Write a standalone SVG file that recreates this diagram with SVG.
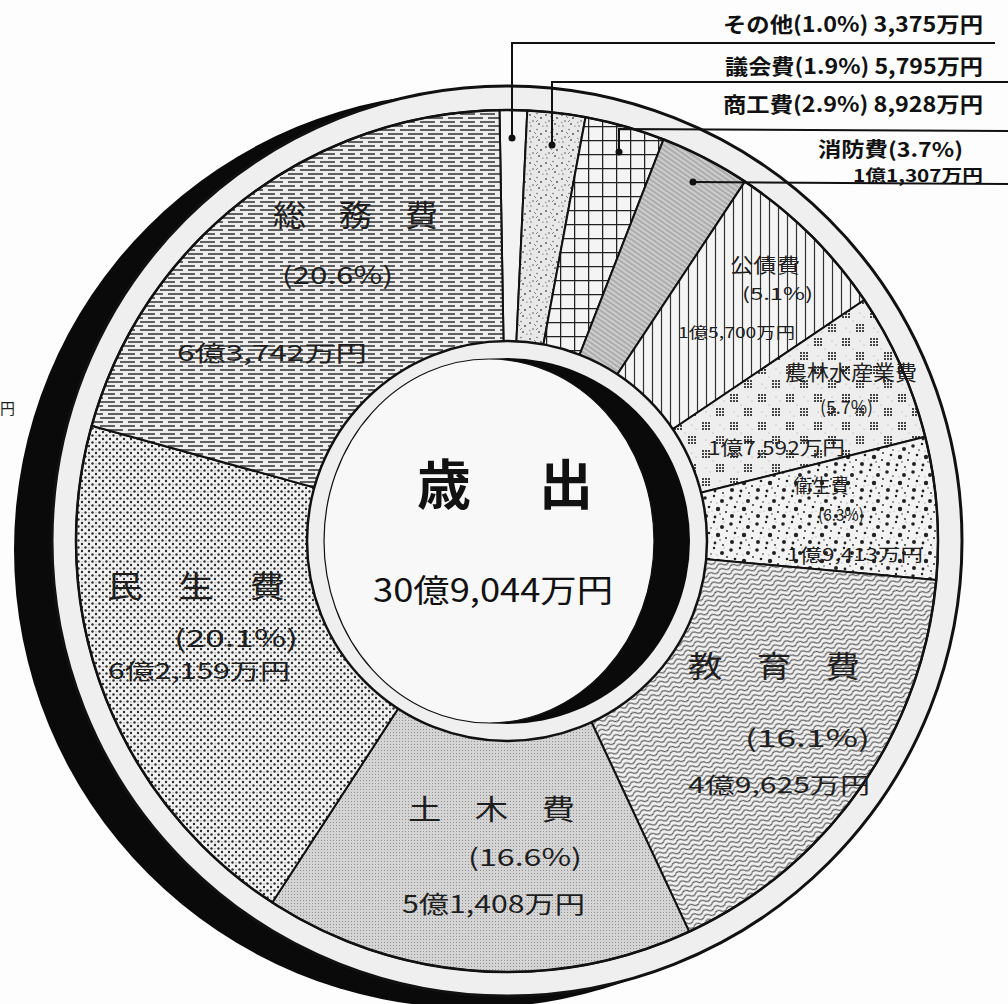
<svg xmlns="http://www.w3.org/2000/svg" width="1008" height="1004" viewBox="0 0 1008 1004">
<style>
.lbl{font-family:"Noto Sans CJK JP","Noto Sans",sans-serif;fill:#1e1e1e;}
.leg{font-family:"Noto Sans CJK JP","Noto Sans",sans-serif;fill:#111;font-weight:bold;}
.ctr{font-family:"Noto Sans CJK JP","Noto Sans",sans-serif;fill:#111;}
.wedge{stroke:#111;stroke-width:2;stroke-linejoin:round;}
.lead{fill:none;stroke:#111;stroke-width:2;}
</style>
<defs>
<pattern id="p-soumu" width="20" height="8" patternUnits="userSpaceOnUse">
<rect width="20" height="8" fill="#eeeeee"/>
<path d="M0 2H15M8 6H20M0 6H3" stroke="#333" stroke-width="1.5"/>
</pattern>
<pattern id="p-minsei" width="7" height="7" patternUnits="userSpaceOnUse">
<rect width="7" height="7" fill="#f2f2f2"/>
<circle cx="1.5" cy="1.5" r="1.2" fill="#2a2a2a"/>
<circle cx="5" cy="5" r="1.2" fill="#2a2a2a"/>
<circle cx="5" cy="1.8" r="0.6" fill="#777"/>
</pattern>
<pattern id="p-doboku" width="3" height="3" patternUnits="userSpaceOnUse">
<rect width="3" height="3" fill="#d4d4d4"/>
<rect width="1" height="1" fill="#929292"/>
</pattern>
<pattern id="p-kyoiku" width="12" height="5" patternUnits="userSpaceOnUse" patternTransform="rotate(-20)">
<rect width="12" height="5" fill="#f0f0f0"/>
<path d="M0 2.5C1.5 0.5 4.5 0.5 6 2.5S10.5 4.5 12 2.5" fill="none" stroke="#333" stroke-width="1.1"/>
</pattern>
<pattern id="p-eisei" width="26" height="26" patternUnits="userSpaceOnUse">
<rect width="26" height="26" fill="#f3f3f3"/>
<g fill="#222">
<circle cx="3" cy="4" r="1.8"/><circle cx="12" cy="2" r="1.2"/><circle cx="20" cy="7" r="2"/>
<circle cx="7" cy="13" r="1.3"/><circle cx="16" cy="15" r="2.2"/><circle cx="24" cy="18" r="1"/>
<circle cx="4" cy="22" r="2"/><circle cx="13" cy="23" r="1.4"/><circle cx="21" cy="25" r="0.9"/>
<circle cx="9" cy="8" r="0.8"/><circle cx="25" cy="11" r="0.9"/><circle cx="18" cy="20" r="0.7"/>
</g>
<g fill="#888"><circle cx="6" cy="18" r="0.6"/><circle cx="15" cy="9" r="0.6"/><circle cx="22" cy="2" r="0.6"/><circle cx="10" cy="17" r="0.5"/></g>
</pattern>
<pattern id="p-norin" width="28" height="28" patternUnits="userSpaceOnUse">
<rect width="28" height="28" fill="#eeeeee"/>
<g fill="#444">
<rect x="2" y="2" width="2" height="2"/><rect x="5" y="2" width="2" height="2"/><rect x="8" y="2" width="2" height="2"/>
<rect x="2" y="5" width="2" height="2"/><rect x="5" y="5" width="2" height="2"/><rect x="8" y="5" width="2" height="2"/>
<rect x="2" y="8" width="2" height="2"/><rect x="5" y="8" width="2" height="2"/><rect x="8" y="8" width="2" height="2"/>
<rect x="16" y="16" width="2" height="2"/><rect x="19" y="16" width="2" height="2"/><rect x="22" y="16" width="2" height="2"/>
<rect x="16" y="19" width="2" height="2"/><rect x="19" y="19" width="2" height="2"/><rect x="22" y="19" width="2" height="2"/>
<rect x="16" y="22" width="2" height="2"/><rect x="19" y="22" width="2" height="2"/><rect x="22" y="22" width="2" height="2"/>
</g>
<g fill="#999"><circle cx="20" cy="5" r="0.6"/><circle cx="24" cy="9" r="0.6"/><circle cx="6" cy="20" r="0.6"/><circle cx="10" cy="24" r="0.6"/><circle cx="13" cy="13" r="0.6"/></g>
</pattern>
<pattern id="p-kousai" width="9" height="10" patternUnits="userSpaceOnUse">
<rect width="9" height="10" fill="#f4f4f4"/>
<path d="M4.5 0V10" stroke="#333" stroke-width="1.2"/>
</pattern>
<pattern id="p-shobo" width="4" height="4" patternUnits="userSpaceOnUse" patternTransform="rotate(35)">
<rect width="4" height="4" fill="#cdcdcd"/>
<path d="M0 2H4" stroke="#8c8c8c" stroke-width="1"/>
</pattern>
<pattern id="p-shoko" width="14" height="14" patternUnits="userSpaceOnUse">
<rect width="14" height="14" fill="#f4f4f4"/>
<path d="M0 0.6H14M0.6 0V14" stroke="#222" stroke-width="1.3"/>
</pattern>
<pattern id="p-gikai" width="16" height="16" patternUnits="userSpaceOnUse">
<rect width="16" height="16" fill="#e8e8e8"/>
<g fill="#555"><circle cx="2" cy="3" r="0.9"/><circle cx="9" cy="1.5" r="0.7"/><circle cx="13" cy="6" r="1"/><circle cx="5" cy="9" r="0.8"/><circle cx="11" cy="12" r="0.9"/><circle cx="3" cy="14" r="0.7"/><circle cx="15" cy="14" r="0.6"/></g>
<path d="M6 4l2 2M10 8l-2 2M1 10l1.5 1" stroke="#666" stroke-width="0.8"/>
</pattern>
</defs>
<rect width="1008" height="1004" fill="#fdfdfd"/>
<text class="lbl" x="0" y="414" font-size="15">円</text>
<g id="frame">
<circle cx="472" cy="550" r="458" fill="#0a0a0a"/>
<circle cx="507" cy="541" r="455" fill="#efefef" stroke="#111" stroke-width="3"/>
</g>
<g id="sonota"><path class="wedge" d="M507 541L499.48 110.07A431 431 0 0 1 527.30 110.48Z" fill="#f3f3f3"/></g>
<g id="gikai"><path class="wedge" d="M507 541L527.30 110.48A431 431 0 0 1 585.54 117.22Z" fill="url(#p-gikai)"/></g>
<g id="shoko"><path class="wedge" d="M507 541L585.54 117.22A431 431 0 0 1 663.56 139.44Z" fill="url(#p-shoko)"/></g>
<g id="shobo"><path class="wedge" d="M507 541L663.56 139.44A431 431 0 0 1 744.88 181.59Z" fill="url(#p-shobo)"/></g>
<g id="kousai"><path class="wedge" d="M507 541L744.88 181.59A431 431 0 0 1 864.32 299.99Z" fill="url(#p-kousai)"/></g>
<g id="norin"><path class="wedge" d="M507 541L864.32 299.99A431 431 0 0 1 925.20 436.73Z" fill="url(#p-norin)"/></g>
<g id="eisei"><path class="wedge" d="M507 541L925.20 436.73A431 431 0 0 1 936.23 580.06Z" fill="url(#p-eisei)"/></g>
<g id="kyoiku"><path class="wedge" d="M507 541L936.23 580.06A431 431 0 0 1 689.15 931.62Z" fill="url(#p-kyoiku)"/></g>
<g id="doboku"><path class="wedge" d="M507 541L689.15 931.62A431 431 0 0 1 272.26 902.47Z" fill="url(#p-doboku)"/></g>
<g id="minsei"><path class="wedge" d="M507 541L272.26 902.47A431 431 0 0 1 91.68 425.82Z" fill="url(#p-minsei)"/></g>
<g id="soumu"><path class="wedge" d="M507 541L91.68 425.82A431 431 0 0 1 499.48 110.07Z" fill="url(#p-soumu)"/></g>
<circle cx="507" cy="541" r="431" fill="none" stroke="#111" stroke-width="2.5"/>
<g id="center">
<circle cx="507" cy="541" r="200" fill="#efefef" stroke="#111" stroke-width="2.5"/>
<circle cx="507" cy="541" r="183" fill="#0a0a0a"/>
<ellipse cx="489" cy="541" rx="165" ry="182" fill="#f8f8f8" stroke="#111" stroke-width="1.2"/>
<text class="ctr" x="417" y="505" font-size="54" font-weight="bold">歳</text>
<text class="ctr" x="539" y="505" font-size="54" font-weight="bold">出</text>
<text class="ctr" x="373" y="602" font-size="32" textLength="240" lengthAdjust="spacingAndGlyphs">30億9,044万円</text>
</g>
<g id="labels">
<text class="lbl" x="273" y="226" font-size="30" textLength="165" lengthAdjust="spacingAndGlyphs">総　務　費</text>
<text class="lbl" x="282" y="284" font-size="24" textLength="111" lengthAdjust="spacingAndGlyphs">(20.6%)</text>
<text class="lbl" x="177" y="361" font-size="22" textLength="190" lengthAdjust="spacingAndGlyphs">6億3,742万円</text>
<text class="lbl" x="107" y="597" font-size="30" textLength="178" lengthAdjust="spacingAndGlyphs">民　生　費</text>
<text class="lbl" x="174" y="647" font-size="24" textLength="124" lengthAdjust="spacingAndGlyphs">(20.1%)</text>
<text class="lbl" x="108" y="679" font-size="22" textLength="182" lengthAdjust="spacingAndGlyphs">6億2,159万円</text>
<text class="lbl" x="408" y="820" font-size="28" textLength="167" lengthAdjust="spacingAndGlyphs">土　木　費</text>
<text class="lbl" x="468" y="866" font-size="24" textLength="114" lengthAdjust="spacingAndGlyphs">(16.6%)</text>
<text class="lbl" x="402" y="913" font-size="24" textLength="183" lengthAdjust="spacingAndGlyphs">5億1,408万円</text>
<text class="lbl" x="688" y="677" font-size="30" textLength="172" lengthAdjust="spacingAndGlyphs">教　育　費</text>
<text class="lbl" x="745" y="747" font-size="24" textLength="125" lengthAdjust="spacingAndGlyphs">(16.1%)</text>
<text class="lbl" x="688" y="793" font-size="22" textLength="182" lengthAdjust="spacingAndGlyphs">4億9,625万円</text>
<text class="lbl" x="794" y="493" font-size="19" textLength="55" lengthAdjust="spacingAndGlyphs">衛生費</text>
<text class="lbl" x="818" y="521" font-size="17" textLength="46" lengthAdjust="spacingAndGlyphs">(6.3%)</text>
<text class="lbl" x="787" y="561" font-size="17" textLength="136" lengthAdjust="spacingAndGlyphs">1億9,413万円</text>
<text class="lbl" x="785" y="380" font-size="21" textLength="132" lengthAdjust="spacingAndGlyphs">農林水産業費</text>
<text class="lbl" x="820" y="414" font-size="18" textLength="53" lengthAdjust="spacingAndGlyphs">(5.7%)</text>
<text class="lbl" x="708" y="455" font-size="19" textLength="137" lengthAdjust="spacingAndGlyphs">1億7,592万円</text>
<text class="lbl" x="730" y="273" font-size="20" textLength="70" lengthAdjust="spacingAndGlyphs">公債費</text>
<text class="lbl" x="742" y="300" font-size="17" textLength="71" lengthAdjust="spacingAndGlyphs">(5.1%)</text>
<text class="lbl" x="678" y="338" font-size="15" textLength="117" lengthAdjust="spacingAndGlyphs">1億5,700万円</text>
</g>
<g id="legend">
<text class="leg" x="723" y="32" font-size="21" textLength="260" lengthAdjust="spacingAndGlyphs">その他(1.0%) 3,375万円</text>
<text class="leg" x="725" y="74" font-size="21" textLength="258" lengthAdjust="spacingAndGlyphs">議会費(1.9%) 5,795万円</text>
<text class="leg" x="723" y="112" font-size="21" textLength="260" lengthAdjust="spacingAndGlyphs">商工費(2.9%) 8,928万円</text>
<text class="leg" x="818" y="157" font-size="20" textLength="145" lengthAdjust="spacingAndGlyphs">消防費(3.7%)</text>
<text class="leg" x="853" y="182" font-size="16.5" textLength="130" lengthAdjust="spacingAndGlyphs">1億1,307万円</text>
</g>
<g id="connectors">
<polyline class="lead" points="512,138 512,43 995,43"/>
<polyline class="lead" points="552,145 552,82 1008,82"/>
<polyline class="lead" points="619,152 619,129 1008,131"/>
<polyline class="lead" points="693,182 1008,184"/>
<circle cx="512" cy="138" r="3.5" fill="#111"/>
<circle cx="552" cy="145" r="3.5" fill="#111"/>
<circle cx="619" cy="152" r="3.5" fill="#111"/>
<circle cx="693" cy="182" r="3.5" fill="#111"/>
</g>
</svg>
